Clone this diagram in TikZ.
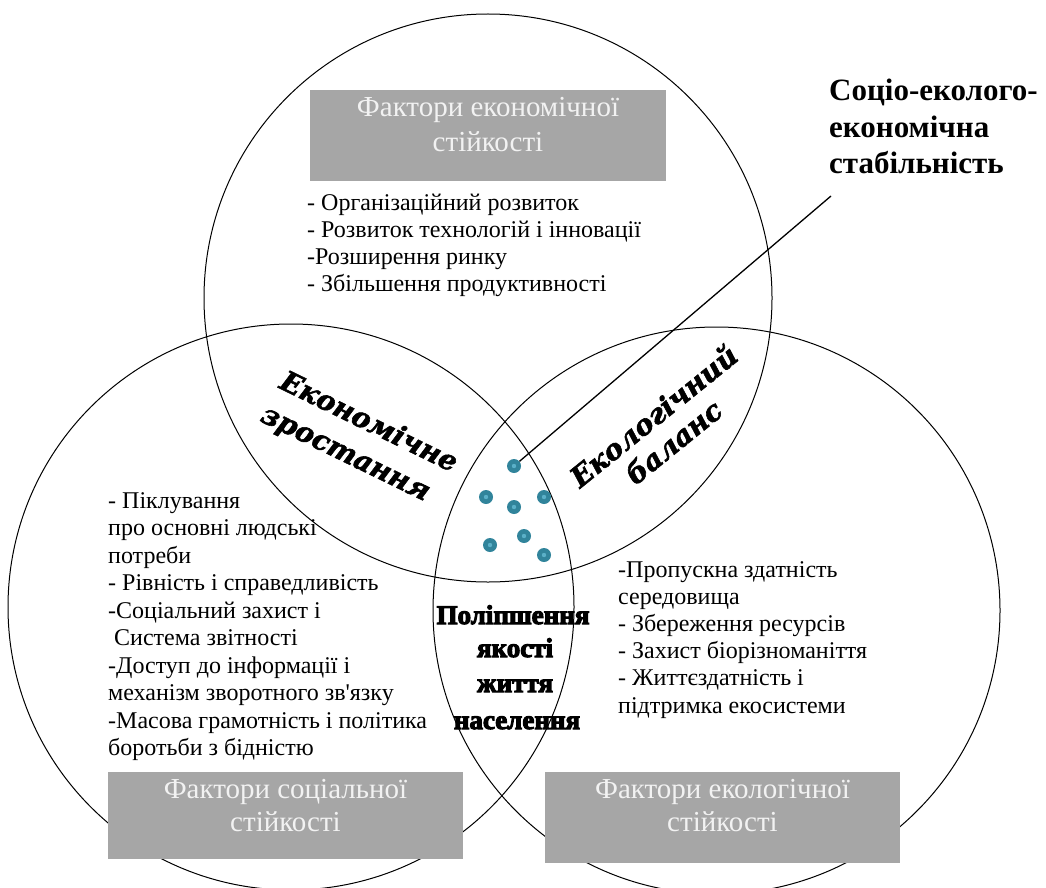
\documentclass[tikz,border=0pt]{standalone}
\usepackage{fontspec}
\setmainfont{Liberation Serif}[Ligatures=TeXOff]
\newfontfamily\decofont[BoldItalicFeatures={FakeBold=2}]{DejaVu Serif}
\newfontfamily\heavyfont[BoldFeatures={FakeBold=4}]{Liberation Serif}
\definecolor{boxgray}{HTML}{A6A6A6}
\definecolor{boxtext}{HTML}{F2F2F2}
\definecolor{dotteal}{HTML}{31849B}
\definecolor{dotlight}{HTML}{5BB0C8}
\tikzset{
  venn/.style={draw=black, line width=1pt},
  gbox/.style={fill=boxgray, draw=none, inner sep=0, anchor=north west},
  gtext/.style={text=boxtext, font=\fontsize{29}{33}\selectfont, anchor=base, inner sep=0},
  item/.style={font=\fontsize{24}{27}\selectfont, anchor=base west, inner sep=0},
  ttl/.style={font=\bfseries\fontsize{31}{36}\selectfont, anchor=base west, inner sep=0},
  deco/.style={font=\decofont\bfseries\itshape\fontsize{28}{36}\selectfont, anchor=base, inner sep=0},
  heavy/.style={font=\heavyfont\bfseries\fontsize{27}{35}\selectfont, anchor=base, inner sep=0},
  dot/.style={circle, fill=dotteal, minimum size=14pt, inner sep=0,
    path picture={\fill[dotlight] (path picture bounding box.center) circle (2.2pt);}},
  conn/.style={draw=black, line width=1.3pt}
}
\begin{document}
\begin{tikzpicture}[x=1pt, y=-1pt]
\useasboundingbox (0,0) rectangle (1046,888);
\clip (0,0) rectangle (1046,888);
% circles
\draw[venn] (488,298) circle[radius=284pt];
\draw[venn] (291,607) circle[radius=283pt];
\draw[venn] (716.5,610.5) circle[radius=283.5pt];
% grey boxes
\node[gbox, minimum width=356pt, minimum height=91pt] (ecobox) at (310,90) {};
\node[gbox, minimum width=355pt, minimum height=87pt] (socbox) at (108,772) {};
\node[gbox, minimum width=355pt, minimum height=91pt] (envbox) at (545,772) {};
\node[gtext] (ecot1) at (488,117) {Фактори економічної};
\node[gtext] (ecot2) at (488,151) {стійкості};
\node[gtext] (soct1) at (285.5,798) {Фактори соціальної};
\node[gtext] (soct2) at (285.5,831) {стійкості};
\node[gtext] (envt1) at (722.5,798) {Фактори екологічної};
\node[gtext] (envt2) at (722.5,831) {стійкості};
% economic list
\foreach \t [count=\i] in {{- Організаційний розвиток},{- Розвиток технологій і інновації},{-Розширення ринку},{- Збільшення продуктивності}}
  \node[item] (eco\i) at (307,{210+27*(\i-1)}) {\t};
% social list
\foreach \t [count=\i] in {{- Піклування},{про основні людські},{потреби},{- Рівність і справедливість},{-Соціальний захист і},{\hspace{6pt}Система звітності},{-Доступ до інформації і},{механізм зворотного зв'язку},{-Масова грамотність і політика},{боротьби з бідністю}}
  \node[item] (soc\i) at (108,{508+27.5*(\i-1)}) {\t};
% environmental list
\foreach \t [count=\i] in {{-Пропускна здатність},{середовища},{- Збереження ресурсів},{- Захист біорізноманіття},{- Життєздатність і},{підтримка екосистеми}}
  \node[item] (env\i) at (618,{577+27.2*(\i-1)}) {\t};
% title
\node[ttl] (ttl1) at (829,101) {Соціо-еколого-};
\node[ttl] (ttl2) at (829,137) {економічна};
\node[ttl] (ttl3) at (829,173) {стабільність};
\coordinate (ttlend) at (831,196);
% rotated labels (one node per line)
\node[deco, rotate=-26] (growth1) at (365,430) {Економічне};
\node[deco, rotate=-26] (growth2) at (342,461) {зростання};
\node[deco, rotate=39] (balance1) at (660,424) {Екологічний};
\node[deco, rotate=39] (balance2) at (680,450) {баланс};
% quality of life
\node[heavy] (q1) at (513,624) {Поліпшення};
\node[heavy] (q2) at (515,657) {якості};
\node[heavy] (q3) at (515,692) {життя};
\node[heavy] (q4) at (517,729) {населення};
% dots and connector
\node[dot] (d1) at (514,466) {};
\node[dot] (d2) at (486,497) {};
\node[dot] (d3) at (514,507) {};
\node[dot] (d4) at (544,497) {};
\node[dot] (d5) at (490,545) {};
\node[dot] (d6) at (524,536) {};
\node[dot] (d7) at (544,555) {};
\draw[conn] (d1) -- (ttlend);
\end{tikzpicture}
\end{document}
